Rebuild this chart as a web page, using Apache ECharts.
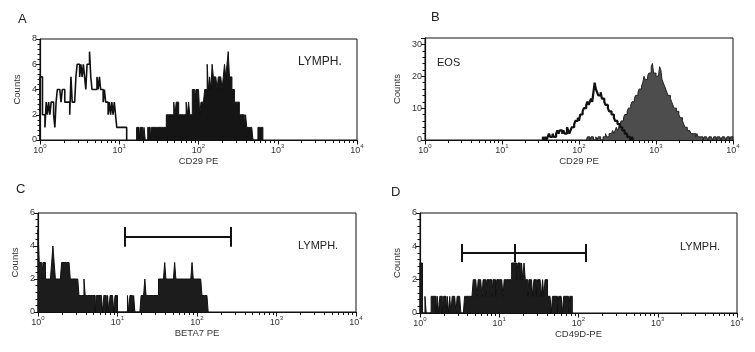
<!DOCTYPE html>
<html>
<head>
<meta charset="utf-8">
<script src="https://cdn.jsdelivr.net/npm/echarts@6/dist/echarts.min.js"></script>
<style>
html, body { margin: 0; padding: 0; background: #fff; }
#chart { width: 755px; height: 352px; }
</style>
</head>
<body>
<div id="chart"></div>
<script>
// 256 channels spread over 4 decades
const CH_PER_DECADE = 64;

// A: open = control, filled = CD29 PE (lymphocytes)
const aOpenStart = 0;
const aOpen = [5,5,2,2,1,3,2,3,2,3, 3,2,1,3,4,4,4,3,4,4, 3,3,3,3,2,5,3,3,3,5,
  6,6,5,6,5,6,5,4,6,6, 7,5,4,4,4,4,5,4,5,4, 4,3,4,3,3,2,3,2,3,2, 3,2,1,1,1,1,1,1,1,1];
const aFillStart = 78;
const aFill = [1,1,0,1,1,0,1, 0,0,1,1,0,1,1,1, 1,1,1,1,1,1,1,1,1, 2,2,2,2,2,2, 3,2,3,3,2,
  2,2,2,2,2, 3,2,3, 2,2, 4,4,3,4,4,4, 2,3, 3,3, 4,4, 6, 4,5,4, 6, 5, 5,5,4,5,5,5,4,5,
  6,5,6, 7, 5,5,4,4, 3,3,3,3, 2,2,2, 2,1,2,1, 1,1,1,1, 0,0,0,0, 1,1,1,1];

// B: eosinophils
const bOpenStart = 98;
const bOpen = [1,0,1,0, 1,2,1,1,2,1,1,2, 3,2,3,3, 2,3,2,2,4,3,2,3, 4,4,5, 6,6,7,6, 8,8,9,
  10,10,11, 12,11,12, 13,12, 15, 18, 16, 15,14, 14,15, 13,13,12, 11,11,10, 9,9,8, 8,7,6,
  6,5,5, 4,4,3, 3,2,2, 1,1,1, 0,1];
const bFillStart = 134;
const bFill = [0,1,1,0,1,1,0,0,1,0,1,1,0,0, 1,1,2,1,1,2, 2,2,3,2, 3,4,3,4, 5,6,6, 7,8,8,
  9,10,10, 11,12,12, 13,14,14, 15,16,16, 17,18,20, 19,19,20, 21,21, 23,24, 21,21,20, 20,20,
  23,22, 19,18,17, 16,15,14, 14,13,12, 11,10,10, 9,9,8,7, 7,6,5,4, 4,3,3,3, 2,2,2,2, 1,2,1,1,
  1,1,0,1,1,1,0,1,1,1,0,1,1,0,1,1,1,0,1,1,1,0,1,1,0,1,1];

// C: BETA7 PE
const cFillStart = 0;
const cFill = [5, 3,3, 2, 3,3,2, 2,2,2,2, 3,4,3, 2,2,2,2,2, 3,3,3,3,3,3,3, 2,2,2,2,2,2,2,
  1,1,1,1, 2, 1,1,1,1,1,1,1,1,0,1,1,1,1,1,0, 1,1,0,1,0,1,1,1,0,1,1, 0,0,0,0,0,0,0,0,
  1,0,1,1,0,1, 0,0,0,0,0, 1,1,1,2,1,1,1, 1,1,1,1,1,1,1, 2,2,2,2,2,3,2, 2,2,2,2,2,2,3,
  2,2,2,2,2,2,2,2,2,2,2,2,2, 3, 2,2,2,2,2,2,2, 1,1,1,1,1];

// D: CD49D-PE
const dFillStart = 0;
const dFill = [3,3, 0,0, 1, 0,0,0,0, 1,1,1,1, 0, 1,0,1,1,0,1,1,0,1, 0,1,0,1, 1,1,0,1,1,1,
  0,0,0, 1,1,1,1,1,1,1, 2, 2,2,1,2,2,2,1,2,2,1,2,2,2,2,1,2,2,1,2,2,2,2,2,1,2,2,2,2,2,2,
  3,3,3,3, 2,3,3,2,3,2,3, 2,2,1,2,2,2,1,2,2,1,2,2,2,1,2,1,2,2,1,
  1,1,0,1,1,1,1,0,1,1,1,0,1,1,1,1,0,1,1];

// gate markers: [from, to, counts level] (+ centre for D)
const gateC = [12.4, 263, 4.55];
const gateD = [3.4, 125, 3.6, 15.5];

const FONT = 'Liberation Sans, Arial, sans-serif';
const channelX = i => Math.pow(10, i / CH_PER_DECADE);
const toSteps = (start, counts) => {
  const pts = [[channelX(start), 0]];
  counts.forEach((v, k) => pts.push([channelX(start + k), v]));
  pts.push([channelX(start + counts.length), 0]);
  return pts;
};
const minorX = [];
for (let d = 0; d < 4; d++) for (let k = 2; k <= 9; k++) minorX.push(d + Math.log10(k));

const panels = [
  {grid: {left: 40, top: 39, width: 317, height: 101}, yMax: 8, yStep: 2, xName: 'CD29 PE', xGap: 16, yGap: 18},
  {grid: {left: 425, top: 38, width: 308, height: 102}, yMax: 32, yStep: 10, xName: 'CD29 PE', xGap: 12, yGap: 23},
  {grid: {left: 38, top: 213, width: 318, height: 99}, yMax: 6, yStep: 2, xName: 'BETA7 PE', xGap: 14, yGap: 18},
  {grid: {left: 420, top: 213, width: 317, height: 100}, yMax: 6, yStep: 2, xName: 'CD49D-PE', xGap: 9, yGap: 18}
];

let grid = [];
let xAxis = [];
let yAxis = [];
panels.forEach((p, i) => {
  grid.push(Object.assign({show: true, borderColor: '#111', borderWidth: 1, containLabel: false}, p.grid));
  xAxis.push({
    type: 'log', logBase: 10, min: 1, max: 10000, gridIndex: i, position: 'bottom',
    axisLine: {lineStyle: {color: '#111', width: 1.2}},
    axisTick: {length: 4.5, lineStyle: {color: '#111'}},
    splitLine: {show: false},
    axisLabel: {
      margin: 3, color: '#333',
      formatter: v => '{b|10}{e|' + Math.round(Math.log10(v)) + '}',
      rich: {
        b: {fontSize: 9, fontFamily: FONT, lineHeight: 12, verticalAlign: 'bottom', color: '#333'},
        e: {fontSize: 6, fontFamily: FONT, lineHeight: 8, verticalAlign: 'top', color: '#333'}
      }
    },
    name: p.xName, nameLocation: 'middle', nameGap: p.xGap,
    nameTextStyle: {fontSize: 9.5, fontFamily: FONT, color: '#333', verticalAlign: 'top'}
  });
  xAxis.push({
    type: 'value', min: 0, max: 4, gridIndex: i, position: 'bottom',
    axisLine: {show: false}, axisLabel: {show: false}, splitLine: {show: false},
    axisTick: {customValues: minorX, length: 3, lineStyle: {color: '#111'}}
  });
  yAxis.push({
    type: 'value', min: 0, max: p.yMax, interval: p.yStep, gridIndex: i,
    axisLine: {show: true, lineStyle: {color: '#111', width: 1.2}},
    axisTick: {show: true, length: 4, lineStyle: {color: '#111'}},
    minorTick: {show: true, splitNumber: 5, length: 2.5, lineStyle: {color: '#111'}},
    splitLine: {show: false},
    axisLabel: {fontSize: 9, fontFamily: FONT, color: '#333', margin: 3, showMaxLabel: p.yMax % p.yStep === 0},
    name: 'Counts', nameLocation: 'middle', nameGap: p.yGap,
    nameTextStyle: {fontSize: 9.5, fontFamily: FONT, color: '#333'}
  });
});

const hist = (start, counts, idx, line, fill, z) => ({
  type: 'line', step: 'end', symbol: 'none', z: z,
  xAxisIndex: idx * 2, yAxisIndex: idx,
  data: toSteps(start, counts),
  lineStyle: line,
  areaStyle: fill ? {color: fill, opacity: 1} : undefined
});

const gateLines = (lo, hi, y, h, mid) => {
  const segs = [
    [{coord: [lo, y]}, {coord: [hi, y]}],
    [{coord: [lo, y - h]}, {coord: [lo, y + h]}],
    [{coord: [hi, y - h]}, {coord: [hi, y + h]}]
  ];
  if (mid) segs.push([{coord: [mid, 3.05]}, {coord: [mid, y + h]}]);
  return {
    silent: true, symbol: ['none', 'none'], label: {show: false},
    lineStyle: {color: '#111', width: 2, type: 'solid'},
    data: segs
  };
};

let series = [
  hist(aFillStart, aFill, 0, {color: '#111', width: 1}, '#151515', 2),
  hist(aOpenStart, aOpen, 0, {color: '#111', width: 1.6}, null, 3),
  hist(bFillStart, bFill, 1, {color: '#222', width: 1}, '#4d4d4d', 2),
  hist(bOpenStart, bOpen, 1, {color: '#111', width: 2.2}, null, 3),
  hist(cFillStart, cFill, 2, {color: '#111', width: 1}, '#1c1c1c', 2),
  hist(dFillStart, dFill, 3, {color: '#111', width: 1}, '#1c1c1c', 2)
];
series[4].markLine = gateLines(gateC[0], gateC[1], gateC[2], 0.6);
series[5].markLine = gateLines(gateD[0], gateD[1], gateD[2], 0.54, gateD[3]);

const label = (text, left, top, size) => ({
  text, left, top, padding: 0,
  textStyle: {fontSize: size, fontWeight: 'normal', fontFamily: FONT, color: '#222'}
});
let title = [
  label('A', 18, 13, 13), label('B', 431, 11, 13), label('C', 16, 183, 13), label('D', 391, 186, 13),
  label('LYMPH.', 298, 56, 12), label('EOS', 437, 57, 11),
  label('LYMPH.', 298, 240, 11), label('LYMPH.', 680, 241, 11)
];

let chart = echarts.init(document.getElementById('chart'));
chart.setOption({
  animation: false,
  title,
  grid,
  xAxis,
  yAxis,
  series
});
</script>
</body>
</html>
